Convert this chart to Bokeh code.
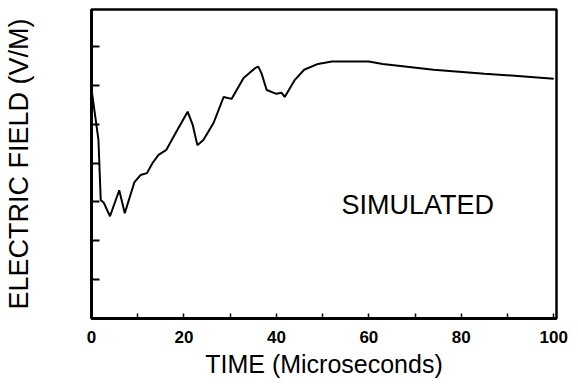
from bokeh.plotting import figure
from bokeh.models import FixedTicker, Range1d, Label
from bokeh.embed import file_html
from bokeh.resources import INLINE

# data (time in microseconds, field in arbitrary units)
time_us = [0, 1.5, 2, 2.7, 4, 6, 7.2, 9.3, 10.6, 12, 13.2, 14.5, 16.2, 18.2, 20.8,
           21.9, 22.9, 24.2, 26.4, 28.6, 30.3, 32.9, 35.5, 36.1, 36.8, 37.9, 40,
           41.1, 41.8, 44, 46, 49, 52, 60, 63, 74, 85, 100]
field = [5.9, 4.6, 3.05, 2.97, 2.63, 3.30, 2.71, 3.51, 3.69, 3.74, 4.0, 4.21, 4.34,
         4.77, 5.32, 4.98, 4.46, 4.59, 5.03, 5.70, 5.65, 6.19, 6.45, 6.48, 6.30,
         5.88, 5.78, 5.81, 5.70, 6.14, 6.40, 6.55, 6.61, 6.61, 6.55, 6.40, 6.30, 6.17]
x_ticks = [0, 20, 40, 60, 80, 100]
x_minor = [10, 30, 50, 70, 90]
y_ticks = [1, 2, 3, 4, 5, 6, 7]

FONT = "Liberation Sans"

p = figure(width=570, height=380, output_backend="svg", toolbar_location=None,
           x_range=Range1d(0, 100.6), y_range=Range1d(0, 7.95),
           min_border_left=91, min_border_right=14, min_border_top=9,
           min_border_bottom=62)
p.grid.visible = False
p.outline_line_color = "black"
p.outline_line_width = 2.5
p.background_fill_color = "white"
p.border_fill_color = "white"

p.line(time_us, field, line_color="black", line_width=2)

xa = p.xaxis[0]
xa.ticker = FixedTicker(ticks=x_ticks, minor_ticks=x_minor)
xa.major_tick_in = 5
xa.major_tick_out = 0
xa.minor_tick_in = 5
xa.minor_tick_out = 0
xa.axis_line_width = 3
xa.major_tick_line_width = 1.5
xa.minor_tick_line_width = 1.5
xa.major_label_text_font = FONT
xa.major_label_text_font_style = "bold"
xa.major_label_text_font_size = "17px"
xa.major_label_text_color = "black"
xa.major_label_standoff = 12
xa.axis_label = "TIME (Microseconds)"
xa.axis_label_text_font = FONT
xa.axis_label_text_font_style = "normal"
xa.axis_label_text_font_size = "25px"
xa.axis_label_text_color = "black"
xa.axis_label_standoff = 4

ya = p.yaxis[0]
ya.ticker = FixedTicker(ticks=y_ticks, minor_ticks=[])
ya.major_tick_in = 8
ya.major_tick_out = 0
ya.axis_line_width = 3
ya.major_tick_line_width = 2
ya.major_label_overrides = {t: "" for t in y_ticks}
ya.axis_label = "ELECTRIC FIELD (V/M)"
ya.axis_label_text_font = FONT
ya.axis_label_text_font_style = "normal"
ya.axis_label_text_font_size = "27px"
ya.axis_label_text_color = "black"
ya.axis_label_standoff = 58

p.add_layout(Label(x=70.6, y=2.92, text="SIMULATED", text_font=FONT,
                   text_font_size="27px", text_align="center",
                   text_baseline="middle", text_color="black"))

open("out.html", "w").write(file_html(p, INLINE))
